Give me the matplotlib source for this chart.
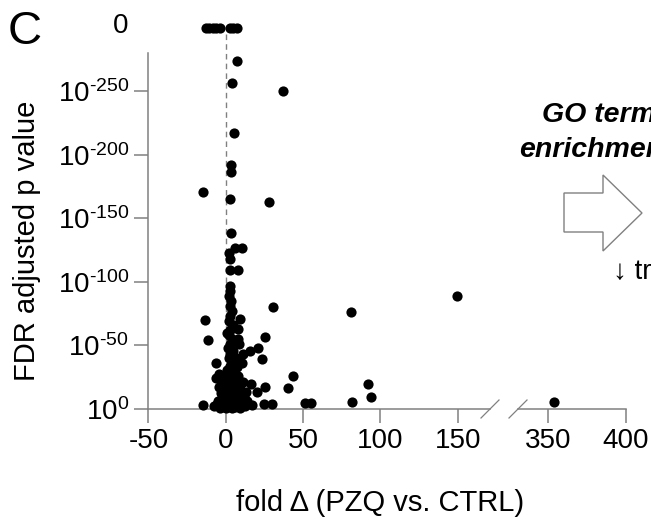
import matplotlib.pyplot as plt
from matplotlib.lines import Line2D
from matplotlib.patches import Polygon

plt.rcParams['font.family'] = ['Liberation Sans', 'DejaVu Sans']
plt.rcParams['mathtext.fontset'] = 'custom'
plt.rcParams['mathtext.rm'] = 'Liberation Sans'
plt.rcParams['mathtext.it'] = 'Liberation Sans:italic'
plt.rcParams['mathtext.bf'] = 'Liberation Sans:bold'

# fold change (PZQ vs CTRL) and -log10(FDR adjusted p)
fold = [7.1, 3.8, 37.2, 5.3, 3.4, 3.4, -14.5, 2.7, 28.0, 3.4,
        6.0, 10.3, 2.1, 2.7, 2.7, 8.1, 30.7, -13.4, 9.2, 8.1,
        25.4, -11.3, 7.7, 8.8, 11.4, 15.7, 20.7, 23.6, 10.3, -6.3,
        -4.4, -6.3, -4.4, -3.1, 43.7, 40.0, 16.1, 20.0, 25.4, 13.1,
        12.0, -14.5, -6.3, 16.8, 24.7, 29.7, 51.2, 54.9, 81.0, 81.4,
        92.2, 93.9, 149.3,
        # dense column near zero
        2.5, 3.0, 2.0, 3.5, 2.5, 4.0, 3.0, 2.0, 4.5, 3.0,
        2.0, 4.0, 3.0, 1.5, 5.0, 3.0, 2.0, 4.5, 3.0, 1.0,
        5.5, 3.0, 2.0, 6.0, 4.0, 1.0, 7.0, 3.0, -1.0, 5.0,
        8.5, 2.0, -2.5, 0.5, 4.5, 10.0, 7.0, -1.5, 2.5, 6.0,
        0.0, 9.5, -3.5, 4.0, 12.5, 1.5, -0.5, 5.5, 8.0, 6.5,
        1.0, -2.0, 0.5, 6.0, 9.0, 11.0, -5.0, -7.5, 3.5, 7.5,
        -4.0, -1.0, 8.0, 11.5, 6.5, -2.5, 0.0, 5.0, 9.5, 13.5]
neg_log_p = [274, 256.5, 250, 216.7, 191.8, 186.6, 170.8, 164.9, 162.7, 138.6,
             126.3, 126.8, 122.9, 117.9, 109.3, 109.3, 80, 70, 70.8, 62.7,
             56.4, 54.2, 54.8, 50.9, 43.2, 45.6, 47.7, 39, 36.4, 35.9,
             27.3, 24.6, 17.5, 12.3, 25.9, 16.3, 19.4, 13.1, 17.5, 13.6,
             9.7, 3.1, 3.1, 3.1, 3.9, 3.9, 5.0, 5.0, 76, 5.3,
             19.7, 9.2, 89,
             97, 93, 89, 85, 81, 77, 73, 69, 66, 62,
             58, 55, 51, 48, 46, 43, 40, 37, 34, 31,
             30, 27, 24, 23, 20, 19, 17, 15, 14, 12,
             10, 10, 8, 7, 6, 6, 4, 3, 2, 1.5,
             1, 1, 1, 0.5, 2, 4.5, 20, 8, 26, 40,
             60, 22, 12, 14, 16, 21, 6, 2, 28, 33,
             5, 9, 13, 9, 3, 17, 25, 2, 4, 6]

# points beyond the broken x axis
fold_far = [353.7]
neg_log_p_far = [5.7]

# genes with p = 0 (drawn above the axis)
fold_zero = [-13.0, -11.0, -8.5, -6.0, -3.5, 3.0, 5.0, 7.0]
zero_level = 300

yticks = [0, 50, 100, 150, 200, 250]
ytick_labels = ['$10^{0}$'] + ['$10^{\\text{-%d}}$' % t for t in yticks[1:]]
xticks_left = [-50, 0, 50, 100, 150]
xticks_right = [350, 400]

W, H = 651, 520
gray = '#808080'

def fx(x):
    return x / W

def fy(y):
    return 1 - y / H

fig = plt.figure(figsize=(6.51, 5.20), dpi=100)
ax = fig.add_axes([fx(148.4), fy(409), (490 - 148.4) / W, 356 / H])
ax2 = fig.add_axes([fx(518), fy(409), (626 - 518) / W, 356 / H])

ms = 54
ax.scatter(fold, neg_log_p, s=ms, color='black', linewidths=0, zorder=3, clip_on=False)
ax.scatter(fold_zero, [zero_level] * len(fold_zero), s=ms, color='black',
           linewidths=0, zorder=3, clip_on=False)
ax2.scatter(fold_far, neg_log_p_far, s=ms, color='black', linewidths=0, zorder=3, clip_on=False)

ax.plot([0, 0], [0, 295], ls=(0, (4, 3)), color=gray, lw=1, clip_on=False, zorder=1)

ax.set_xlim(-50, 170.9)
ax2.set_xlim(330.5, 400)
for a in (ax, ax2):
    a.set_ylim(0, 280)
    a.spines['top'].set_visible(False)
    a.spines['right'].set_visible(False)
    a.spines['bottom'].set_color(gray)
    a.spines['left'].set_color(gray)
    a.spines['bottom'].set_linewidth(1.1)
    a.spines['left'].set_linewidth(1.1)
    a.tick_params(axis='both', colors=gray, width=1.1, length=10, labelsize=20,
                  labelcolor='black', pad=4)
    a.tick_params(axis='x', pad=4)
ax2.spines['left'].set_visible(False)
ax2.set_yticks([])

ax.set_yticks(yticks)
ax.set_yticklabels(ytick_labels)
ax.set_xticks(xticks_left)
ax.set_xticklabels([str(t) for t in xticks_left])
ax2.set_xticks(xticks_right)
ax2.set_xticklabels([str(t) for t in xticks_right])

# break marks on the x axis
for cx in (490, 518):
    fig.add_artist(Line2D([fx(cx - 9), fx(cx + 9)], [fy(418), fy(400)],
                          color=gray, lw=0.9))

fig.text(fx(121), fy(26), '0', fontsize=20, ha='center', va='center')
fig.text(fx(25), fy(32), 'C', fontsize=34, ha='center', va='center')
fig.text(fx(27.5), fy(241), 'FDR adjusted p value', fontsize=21, rotation=90,
         ha='center', va='center')
fig.text(fx(380), fy(503), 'fold \u0394 (PZQ vs. CTRL)', fontsize=21,
         ha='center', va='center')

fig.text(fx(541.7), fy(121.7), 'GO term', fontsize=20.5, fontweight='bold',
         fontstyle='italic', ha='left', va='baseline')
fig.text(fx(519.3), fy(156.7), 'enrichment', fontsize=20.5, fontweight='bold',
         fontstyle='italic', ha='left', va='baseline')
fig.text(fx(613), fy(272), '\u2193 tr', fontsize=20, ha='left', va='center')

arrow = [(564, 193), (603, 193), (603, 175), (642, 213), (603, 251), (603, 232), (564, 232)]
fig.add_artist(Polygon([(fx(x), fy(y)) for x, y in arrow], closed=True,
                       facecolor='white', edgecolor=gray, lw=1,
                       transform=fig.transFigure))

fig.savefig('out.png', dpi=100)
